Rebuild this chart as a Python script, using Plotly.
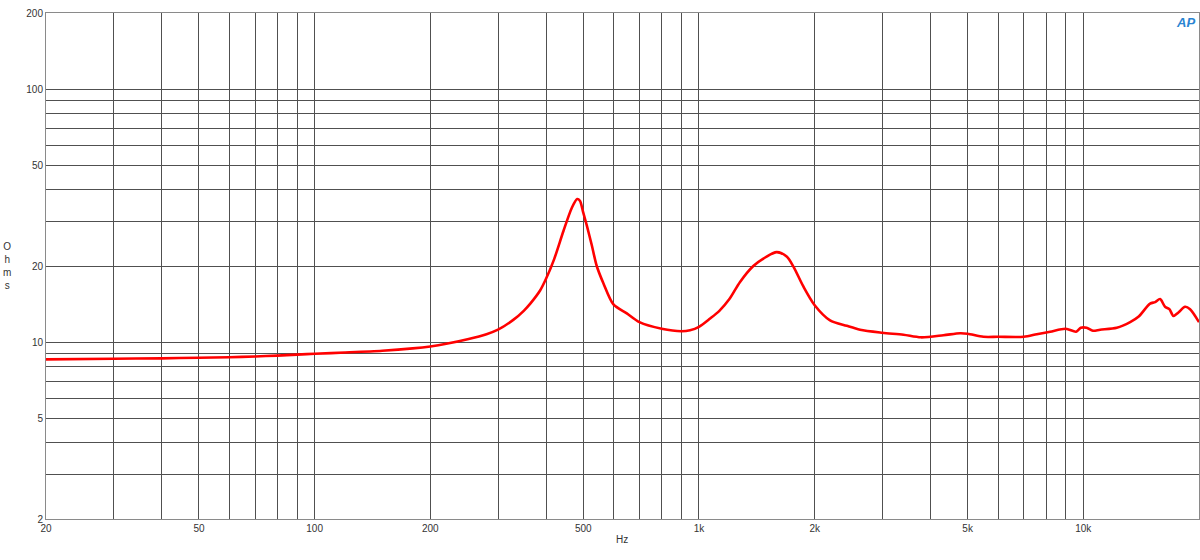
import plotly.graph_objects as go

freq_hz = [20, 30, 40, 50, 60, 70, 80, 90, 100, 120, 150, 180, 200, 220, 250, 280, 300,
           330, 350, 364, 386, 400, 420, 444, 467, 482, 490, 500, 511, 526, 542,
           564, 599, 649, 700, 800, 900, 948, 1000, 1069, 1130, 1200, 1279, 1385, 1471,
           1593, 1691, 1761, 1869, 2000, 2193, 2424, 2625, 3000, 3404, 3780, 4325, 4779,
           5000, 5496, 6000, 7000, 7568, 8195, 9000, 9575, 9850, 10200, 10590, 11060,
           12220, 13240, 13910, 14920, 15380, 15840, 16320, 16750, 17160, 17680, 18400,
           18960, 20000]
impedance_ohm = [8.55, 8.6, 8.63, 8.68, 8.72, 8.78, 8.85, 8.93, 9.0, 9.1, 9.25, 9.45, 9.62,
                 9.85, 10.27, 10.75, 11.2, 12.3, 13.3, 14.2, 16.0, 17.8, 21.3, 27.5, 34.0,
                 36.8, 36.2, 32.5, 28.8, 24.2, 20.0, 17.1, 14.1, 13.0, 12.0,
                 11.3, 11.05, 11.15, 11.5, 12.4, 13.3, 14.8, 17.3, 20.0, 21.4, 22.7, 21.8,
                 19.9, 16.6, 14.0, 12.2, 11.6, 11.2, 10.9, 10.7, 10.45, 10.65, 10.85, 10.8,
                 10.5, 10.5, 10.5, 10.75, 11.0, 11.3, 11.0, 11.4, 11.4, 11.1, 11.2, 11.4,
                 12.0, 12.6, 14.2, 14.4, 14.8, 13.8, 13.5, 12.7, 13.1, 13.8, 13.5, 12.0]

x_grid = [20, 30, 40, 50, 60, 70, 80, 90, 100, 200, 300, 400, 500, 600, 700, 800, 900,
          1000, 2000, 3000, 4000, 5000, 6000, 7000, 8000, 9000, 10000, 20000]
x_labels = {20: "20", 50: "50", 100: "100", 200: "200", 500: "500", 1000: "1k",
            2000: "2k", 5000: "5k", 10000: "10k", 20000: "20k"}
y_grid = [2, 3, 4, 5, 6, 7, 8, 9, 10, 20, 30, 40, 50, 60, 70, 80, 90, 100, 200]
y_labels = {2: "2", 5: "5", 10: "10", 20: "20", 50: "50", 100: "100", 200: "200"}

fig = go.Figure()
fig.add_trace(go.Scatter(
    x=freq_hz, y=impedance_ohm, mode="lines",
    line=dict(color="#ff0000", width=2.6, shape="spline", smoothing=0.8),
    hoverinfo="x+y", showlegend=False,
))

tick_font = dict(family="Liberation Sans, Arial, sans-serif", size=10, color="#333333")

fig.update_layout(
    width=1200, height=560,
    margin=dict(l=46, r=1, t=13, b=41),
    paper_bgcolor="white", plot_bgcolor="white",
    xaxis=dict(
        type="log", range=[1.30103, 4.30103],
        tickmode="array", tickvals=x_grid,
        ticktext=[x_labels.get(v, "") for v in x_grid],
        showgrid=True, gridcolor="#505050", gridwidth=1,
        showline=True, linecolor="#8a8a8a", linewidth=1, mirror=True,
        ticks="", tickfont=tick_font, zeroline=False,
    ),
    yaxis=dict(
        type="log", range=[0.30103, 2.30103],
        tickmode="array", tickvals=y_grid,
        ticktext=[y_labels.get(v, "") for v in y_grid],
        showgrid=True, gridcolor="#505050", gridwidth=1,
        showline=True, linecolor="#8a8a8a", linewidth=1, mirror=True,
        ticks="", tickfont=tick_font, zeroline=False,
    ),
    annotations=[
        dict(text="Hz", xref="paper", yref="paper", x=0.4996, y=-0.041,
             xanchor="center", yanchor="middle", showarrow=False,
             font=dict(family="Liberation Sans, Arial, sans-serif", size=10, color="#333333")),
        dict(text="O<br>h<br>m<br>s", xref="paper", yref="paper", x=-0.034, y=0.5,
             xanchor="center", yanchor="middle", showarrow=False,
             font=dict(family="Liberation Sans, Arial, sans-serif", size=10, color="#333333")),
        dict(text="<i><b>AP</b></i>", xref="paper", yref="paper", x=0.988, y=0.982,
             xanchor="center", yanchor="middle", showarrow=False,
             font=dict(family="Liberation Sans, Arial, sans-serif", size=13, color="#2a84d2")),
    ],
)

fig.write_html(
    "out.html",
    config={"displayModeBar": False},
    post_script="document.body.style.margin='0';document.body.style.overflow='hidden';",
)
